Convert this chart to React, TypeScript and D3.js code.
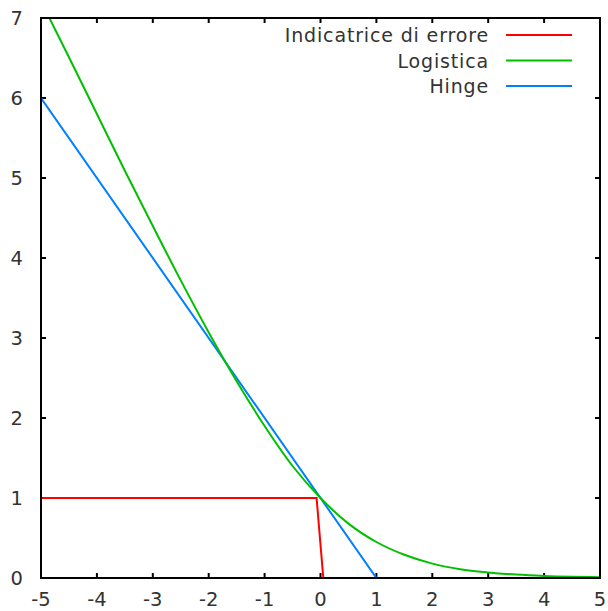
import React from "react";
import * as d3 from "d3";

const xTicks = [-5, -4, -3, -2, -1, 0, 1, 2, 3, 4, 5];
const yTicks = [0, 1, 2, 3, 4, 5, 6, 7];

const errorX = [-5, -0.07, 0.05];
const errorY = [1, 1, 0];

const logX = [-5, -4.5, -4, -3.5, -3, -2.5, -2, -1.5, -1, -0.5, 0, 0.5, 1, 1.5, 2, 2.5, 3, 3.5, 4, 4.5, 5];
const logY = [7.21, 6.51, 5.8, 5.09, 4.4, 3.72, 3.07, 2.46, 1.9, 1.4, 1.0, 0.68, 0.45, 0.29, 0.18, 0.11, 0.07, 0.043, 0.026, 0.016, 0.01];

const hingeX = [-5, 1, 5];
const hingeY = [6, 0, 0];

const seriesNames = ["Indicatrice di errore", "Logistica", "Hinge"];
const seriesColors = ["#ff0000", "#00c000", "#0080ff"];

export default function App() {
  const W = 608, H = 611;
  const left = 41, right = 600, top = 18, bottom = 578;
  const x = d3.scaleLinear().domain([-5, 5]).range([left, right]);
  const y = d3.scaleLinear().domain([0, 7]).range([bottom, top]);
  const font = "'DejaVu Sans', sans-serif";

  const mk = (xs: number[], ys: number[], curve: any) =>
    d3.line<number>().x((_, i) => x(xs[i])).y((_, i) => y(ys[i])).curve(curve)(xs) || "";

  const paths = [
    mk(errorX, errorY, d3.curveLinear),
    mk(logX, logY, d3.curveMonotoneX),
    mk(hingeX, hingeY, d3.curveLinear),
  ];

  const tickLen = 5;
  const textColor = "#333";

  return (
    <svg width={W} height={H} style={{ position: "absolute", left: 0, top: 0, background: "#fff" }}>
      <defs>
        <clipPath id="plotclip">
          <rect x={left + 1} y={top + 1} width={right - left - 2} height={bottom - top - 2} />
        </clipPath>
      </defs>
      <rect x={0} y={0} width={W} height={H} fill="#fff" />
      <rect x={left} y={top} width={right - left} height={bottom - top} fill="none" stroke="#000" strokeWidth={2} />
      {xTicks.map((t) => (
        <g key={"x" + t}>
          <line x1={x(t)} x2={x(t)} y1={bottom} y2={bottom - tickLen} stroke="#000" strokeWidth={2} />
          <line x1={x(t)} x2={x(t)} y1={top} y2={top + tickLen} stroke="#000" strokeWidth={2} />
          <text x={x(t)} y={606} textAnchor="middle" fontFamily={font} fontSize={19.5} fill={textColor}>
            {t}
          </text>
        </g>
      ))}
      {yTicks.map((t) => (
        <g key={"y" + t}>
          <line x1={left} x2={left + tickLen} y1={y(t)} y2={y(t)} stroke="#000" strokeWidth={2} />
          <line x1={right} x2={right - tickLen} y1={y(t)} y2={y(t)} stroke="#000" strokeWidth={2} />
          <text x={23} y={y(t) + 7} textAnchor="end" fontFamily={font} fontSize={19.5} fill={textColor}>
            {t}
          </text>
        </g>
      ))}
      <g clipPath="url(#plotclip)">
        {[2, 1, 0].map((i) => (
          <path key={i} d={paths[i]} fill="none" stroke={seriesColors[i]} strokeWidth={2} />
        ))}
      </g>
      {seriesNames.map((n, i) => {
        const ly = 35 + i * 25.5;
        return (
          <g key={n}>
            <text x={489} y={ly + 7} textAnchor="end" fontFamily={font} fontSize={19} letterSpacing={0.85} fill={textColor}>
              {n}
            </text>
            <line x1={506} x2={572} y1={ly} y2={ly} stroke={seriesColors[i]} strokeWidth={2} />
          </g>
        );
      })}
    </svg>
  );
}
